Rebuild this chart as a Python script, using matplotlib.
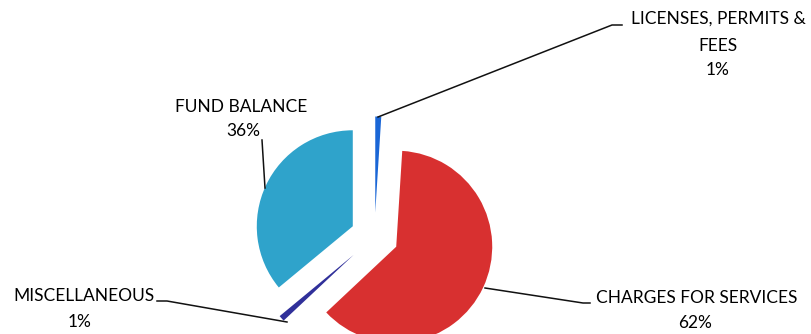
import matplotlib.pyplot as plt

# -----------------------------
# Data
# -----------------------------
labels = ["LICENSES, PERMITS &\nFEES", "CHARGES FOR SERVICES", "MISCELLANEOUS", "FUND BALANCE"]
shares = [1, 62, 1, 36]
pct_text = ["1%", "62%", "1%", "36%"]
colors = ["#1a66d6", "#d83030", "#30309a", "#2fa3cb"]

W, H = 811, 334
plt.rcParams["font.family"] = ["Lato", "DejaVu Sans"]

fig = plt.figure(figsize=(W / 100, H / 100), dpi=100)
ax = fig.add_axes([0, 0, 1, 1])

# pixel-like coordinates, y measured up from the bottom
cx, cy, rad = 374.5, H - 236.5, 96
# explode is in data units here (not a fraction of radius)
ax.pie(
    shares,
    colors=colors,
    startangle=90,
    counterclock=False,
    explode=[rad * 0.25, rad * 0.25, rad * 0.29, rad * 0.25],
    center=(cx, cy),
    radius=rad,
    frame=True,
    wedgeprops=dict(linewidth=0),
)
ax.set_xlim(0, W)
ax.set_ylim(0, H)
ax.set_aspect("equal")
ax.axis("off")


def py(y):
    return H - y


lc = "#111111"
fs = 12.5

# licenses
ax.plot([378, 612, 622], [py(117), py(25), py(25)], color=lc, lw=1.1)
lic_lines = labels[0].split("\n")
ax.text(718, py(19), lic_lines[0], ha="center", va="center", fontsize=fs)
ax.text(718, py(46), lic_lines[1], ha="center", va="center", fontsize=fs)
ax.text(718, py(70), pct_text[0], ha="center", va="center", fontsize=fs)
# fund balance
ax.plot([262, 265], [py(140), py(188)], color=lc, lw=1.1)
ax.text(241, py(107), labels[3], ha="center", va="center", fontsize=fs)
ax.text(243, py(131), pct_text[3], ha="center", va="center", fontsize=fs)
# miscellaneous
ax.plot([157, 167, 287], [py(301), py(301), py(322)], color=lc, lw=1.1)
ax.text(84, py(296), labels[2], ha="center", va="center", fontsize=fs)
ax.text(80, py(322), pct_text[2], ha="center", va="center", fontsize=fs)
# charges for services
ax.plot([485, 583, 590], [py(288), py(303), py(303)], color=lc, lw=1.1)
ax.text(697, py(298), labels[1], ha="center", va="center", fontsize=fs)
ax.text(695, py(323), pct_text[1], ha="center", va="center", fontsize=fs)

fig.savefig("out.png", dpi=100)
